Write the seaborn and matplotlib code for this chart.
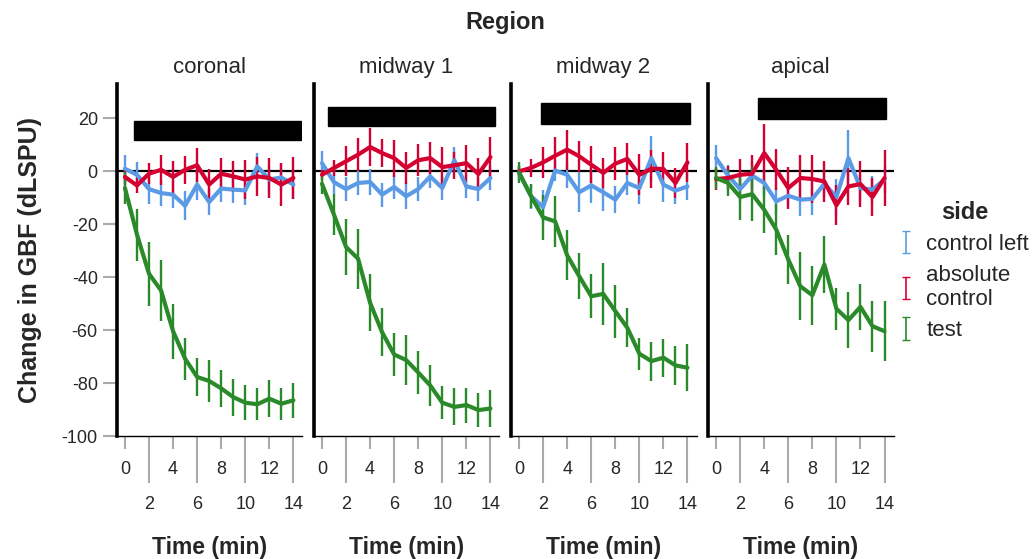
import numpy as np
import pandas as pd
import matplotlib
matplotlib.use("Agg")
import matplotlib.pyplot as plt
import seaborn as sns
from matplotlib.patches import Rectangle

# --- data ---
times = list(range(15))
regions = ['coronal', 'midway 1', 'midway 2', 'apical']
sides = ['control left', 'absolute\ncontrol', 'test']

coronal_left = [1, -1.3, -6.7, -8.2, -8.8, -13, -5, -11.6, -6.5, -6.9, -7.2, 1.9, -3.1, -2.3, -5]
coronal_left_err = [5, 5, 5.5, 5, 5, 5.5, 6, 5, 5, 5, 5.5, 5, 5, 5, 5.5]
coronal_abs = [-2.1, -5.3, -0.9, 0.6, -2.1, 0.6, 2.3, -5, -0.9, -1.9, -3.1, -1.9, -2.5, -5, -2.5]
coronal_abs_err = [3, 3, 4, 5.7, 6, 5.3, 6.5, 6, 6, 6, 7.5, 7.4, 7.5, 8, 8]
coronal_test = [-6.3, -23.9, -38.7, -45, -60.4, -70.8, -77.7, -79.2, -82, -85.3, -87.4, -88, -85.9, -87.8, -86.5]
coronal_test_err = [6, 9.8, 12, 11.4, 10.4, 8, 7, 8, 7, 7, 6.6, 6, 7, 6, 6.7]

mid1_left = [3.1, -4.1, -6.7, -4.4, -4, -8.8, -5.9, -9.4, -6.7, -1.9, -6.3, 4.2, -5.7, -6.7, -2.5]
mid1_left_err = [4.5, 4.5, 4.5, 4.5, 5, 4.5, 4.5, 5, 4.5, 4.5, 4.5, 5, 4.5, 4.5, 4.5]
mid1_abs = [-1.3, 1.3, 3.8, 6.3, 9.2, 6.9, 5, 1.3, 4.2, 5, 1.6, 2.3, 3.1, -1, 5.4]
mid1_abs_err = [2, 3, 5.6, 6.3, 7.1, 5.2, 7, 6, 6, 6, 7.5, 5, 7, 6, 7.6]
mid1_test = [-4.7, -16.4, -28.6, -33, -49.7, -60.8, -69.2, -71.3, -76, -80.9, -87.4, -89, -88.3, -90.2, -89.6]
mid1_test_err = [3.8, 7.7, 10.7, 11.4, 10.8, 9, 8, 9.5, 8.3, 7.7, 6.2, 7, 6.6, 6.4, 7]

mid2_left = [-0.6, -9.4, -13.5, 0.3, -1.3, -7.9, -5.3, -7.9, -10.7, -4.4, -6.3, 5, -5, -7.3, -5.7]
mid2_left_err = [3, 4.7, 6.6, 4, 5, 7.5, 6.5, 7.2, 5, 4.4, 6, 8.5, 6.4, 5, 5]
mid2_abs = [0, 1.3, 3.4, 5.9, 8.2, 5.7, 2.5, -0.6, 2.9, 4.7, -1.3, 1, 0.9, -4.4, 3.4]
mid2_abs_err = [2, 3.3, 5.8, 7, 7.5, 5.8, 7, 5.8, 6.3, 6.1, 7.7, 7.2, 6.5, 5.5, 7.4]
mid2_test = [-0.4, -9.4, -17.4, -18.9, -31.7, -39.6, -47.2, -46.3, -52.8, -59.1, -68.9, -71.7, -70.4, -73.3, -74.2]
mid2_test_err = [4, 4.6, 8.6, 9.7, 9.5, 8.8, 8.3, 11.8, 10, 7.3, 6.1, 7.4, 7.2, 7.5, 8.8]

apical_left = [5, -1.6, -6.7, -1.6, -4.4, -11.3, -9.2, -10.7, -10.4, -4.7, -9.7, 5, -6.3, -6.9, -3.1]
apical_left_err = [5, 4, 5, 5, 5, 5, 4, 6, 6, 5, 7, 10.7, 5, 5, 5]
apical_abs = [-2.9, -2.5, -1.3, -0.9, 6.9, 0.6, -6.3, -2.5, -2.9, -3.8, -12.8, -5.7, -4.8, -9.7, -2.5]
apical_abs_err = [4, 4.5, 6, 7, 11, 7.8, 7.9, 8.8, 9, 7.9, 7.5, 7.1, 8.6, 7.3, 10.5]
apical_test = [-2.5, -4.4, -9.7, -8.6, -14.5, -22, -33.3, -43.4, -46.8, -35.2, -51.9, -56.2, -51.2, -58.5, -60.4]
apical_test_err = [4, 5, 8.5, 10.3, 8.8, 9.7, 9.4, 12.9, 11.1, 10.6, 7.9, 10.6, 8.8, 9.6, 11.4]

# black bars drawn over the top of each panel (time span, value span)
bar_start = [0.75, 0.5, 1.83, 3.5]
bar_end = [14.6, 14.4, 14.25, 14.1]
bar_low = [11.7, 17, 17.8, 19.6]
bar_high = [18.9, 24.2, 25.7, 27.9]

series = {
    'coronal': [(coronal_left, coronal_left_err), (coronal_abs, coronal_abs_err), (coronal_test, coronal_test_err)],
    'midway 1': [(mid1_left, mid1_left_err), (mid1_abs, mid1_abs_err), (mid1_test, mid1_test_err)],
    'midway 2': [(mid2_left, mid2_left_err), (mid2_abs, mid2_abs_err), (mid2_test, mid2_test_err)],
    'apical': [(apical_left, apical_left_err), (apical_abs, apical_abs_err), (apical_test, apical_test_err)],
}

rows = []
for region in regions:
    for side, (vals, errs) in zip(sides, series[region]):
        for t, v, e in zip(times, vals, errs):
            rows.append({'region': region, 'side': side, 'time': t, 'change': v, 'err': e})
df = pd.DataFrame(rows)

palette = {'control left': '#5B9BE6', 'absolute\ncontrol': '#D50032', 'test': '#2A8A2A'}

sns.set_style('white')
plt.rcParams['font.family'] = ['Liberation Sans', 'DejaVu Sans']
plt.rcParams['axes.unicode_minus'] = False


def draw_series(data, color, label=None, **kws):
    ax = plt.gca()
    ax.errorbar(data['time'], data['change'], yerr=data['err'], color=color,
                lw=3, elinewidth=1.7, capsize=0)


g = sns.FacetGrid(df, col='region', col_order=regions, hue='side', hue_order=sides,
                  palette=palette, sharey=True, height=5, aspect=0.5)
g.map_dataframe(draw_series)

fig = g.figure
fig.set_size_inches(10.33, 5.59)
fig.subplots_adjust(left=0.1128, right=0.865, top=0.8497, bottom=0.22, wspace=0.06)

g.set_titles('{col_name}', size=16, pad=8)
g.set_axis_labels('Time (min)', 'Change in GBF (dLSPU)')

grey = '#AAAAAA'
for i, ax in enumerate(g.axes.flat):
    ax.axhline(0, color='black', lw=1.6, zorder=1)
    ax.add_patch(Rectangle((bar_start[i], bar_low[i]), bar_end[i] - bar_start[i],
                           bar_high[i] - bar_low[i], color='black', zorder=5))
    ax.set_xlim(-0.7, 14.75)
    ax.set_ylim(-100, 33)
    ax.set_xticks([0, 4, 8, 12])
    ax.set_xticklabels(['0', '4', '8', '12'])
    ax.set_xticks([2, 6, 10, 14], minor=True)
    ax.set_xticklabels(['2', '6', '10', '14'], minor=True)
    ax.tick_params(axis='x', which='major', length=9, pad=9, color=grey, width=1.5,
                   labelsize=13, bottom=True)
    ax.tick_params(axis='x', which='minor', length=34, pad=9, color=grey, width=1.5,
                   labelsize=13, bottom=True)
    ax.set_yticks(range(-100, 21, 20))
    if i == 0:
        ax.tick_params(axis='y', length=10, color=grey, width=1.5, labelsize=13, left=True)
        ax.set_ylabel('Change in GBF (dLSPU)', fontsize=18, fontweight='bold', labelpad=14)
    else:
        ax.tick_params(axis='y', left=False, labelleft=False)
    ax.set_xlabel('Time (min)', fontsize=16.5, fontweight='bold', labelpad=17)
    for s in ['top', 'right']:
        ax.spines[s].set_visible(False)
    ax.spines['left'].set_linewidth(2.6)
    ax.spines['left'].set_color('black')
    ax.spines['bottom'].set_linewidth(1)
    ax.spines['bottom'].set_color('black')

fig.suptitle('Region', x=0.489, y=0.98, fontsize=17, fontweight='bold')

# legend with errorbar-style handles
ax0 = g.axes.flat[0]
handles = []
for side in sides:
    h = ax0.errorbar([0], [np.nan], yerr=[1], fmt='none', ecolor=palette[side],
                     elinewidth=1.2, capsize=3)
    handles.append(h)
fig.legend(handles, sides, title='side', loc='center left', bbox_to_anchor=(0.871, 0.515),
           frameon=False, fontsize=16, title_fontproperties={'weight': 'bold', 'size': 17},
           handlelength=0.6, handletextpad=0.6, labelspacing=0.45, borderpad=0,
           borderaxespad=0)

fig.savefig('out.png', dpi=100)
